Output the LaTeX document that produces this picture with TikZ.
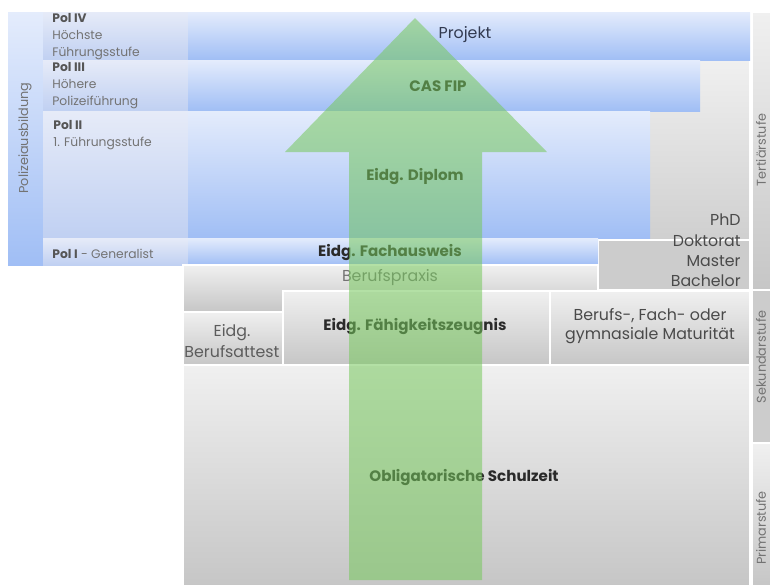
\documentclass[tikz,border=0pt]{standalone}
\usepackage{fontspec}
\setmainfont{Poppins}
\usepackage{tikz}
\usetikzlibrary{positioning}
\definecolor{bandtop}{RGB}{228,236,252}
\definecolor{bandbot}{RGB}{160,190,245}
\definecolor{poltop}{RGB}{230,235,248}
\definecolor{polbot}{RGB}{192,208,242}
\definecolor{greytop}{RGB}{240,240,240}
\definecolor{greybot}{RGB}{198,198,198}
\definecolor{arrowgreen}{RGB}{118,200,92}
\definecolor{textdark}{RGB}{42,42,42}
\definecolor{textgrey}{RGB}{115,115,115}
\definecolor{textblue}{RGB}{50,58,80}
\tikzstyle{band}=[top color=bandtop,bottom color=bandbot]
\tikzstyle{polbox}=[top color=poltop,bottom color=polbot]
\tikzstyle{greybox}=[top color=greytop,bottom color=greybot,draw=white,line width=0.6pt]
\tikzstyle{darkbox}=[fill=black!20,draw=white,line width=0.6pt]
\tikzstyle{boldtext}=[font=\fontsize{8.6}{12}\selectfont\bfseries,text=textdark,align=center,inner sep=0pt]
\tikzstyle{plaintext}=[font=\fontsize{9}{11.5}\selectfont,text=textdark!85,align=center,inner sep=0pt]
\tikzstyle{poltext}=[font=\fontsize{7}{9.8}\selectfont,text=textgrey,align=left,anchor=north west,inner sep=0pt]
\tikzstyle{sidetext}=[font=\fontsize{7.3}{8}\selectfont,text=textgrey,rotate=90,inner sep=0pt]

\begin{document}
\begin{tikzpicture}[x=0.2mm,y=-0.2mm]
    \useasboundingbox (0,0) rectangle (771,586);
    % tertiary backdrop and PhD box
    \path[greybox] (598,60) rectangle (750,290);
    \path[darkbox] (598,240) rectangle (750,290);
    % police training strip
    \path[band] (8,12) rectangle (43,265);
    % the Pol boxes and the blue bands
    \foreach \top/\bot/\right in {12/60/750, 60/111/700, 111/238/650, 238/265/598}
    {
        \path[polbox] (43,\top) rectangle (188,\bot);
        \path[band] (188,\top) rectangle (\right,\bot);
    }
    % grey boxes below
    \path[greybox] (183,265) rectangle (598,312);
    \path[greybox] (183,312) rectangle (283,365);
    \path[greybox] (283,291) rectangle (550,365);
    \path[greybox] (550,291) rectangle (750,365);
    \path[greybox] (183,365) rectangle (750,586);
    % school levels on the right
    \path[greybox] (752,12) rectangle (771,290);
    \path[darkbox] (752,290) rectangle (771,443);
    \path[greybox] (752,443) rectangle (771,586);

    % texts
    \node[sidetext] (polizei) at (25,138) {Polizeiausbildung};
    \node[poltext] (pol4) at (52,13) {\textbf{\color{textdark!80}Pol IV}\\Höchste\\Führungsstufe};
    \node[poltext] (pol3) at (52,62) {\textbf{\color{textdark!80}Pol III}\\Höhere\\Polizeiführung};
    \node[poltext] (pol2) at (53,120) {\textbf{\color{textdark!80}Pol II}\\1. Führungsstufe};
    \node[poltext,anchor=west] (pol1) at (52,254) {\textbf{\color{textdark!80}Pol I} - Generalist};
    \node[plaintext,text=textblue] (projekt) at (465,35) {Projekt};
    \node[boldtext] (casfip) at (438,86) {CAS FIP};
    \node[boldtext] (diplom) at (415,177) {Eidg. Diplom};
    \node[boldtext] (fachausweis) at (390,253) {Eidg. Fachausweis};
    \node[plaintext,text=textgrey] (praxis) at (390,278) {Berufspraxis};
    \node[boldtext] (efz) at (415,327) {Eidg. Fähigkeitszeugnis};
    \node[plaintext,font=\fontsize{9}{10.8}\selectfont] (maturitaet) at (650,326) {Berufs-, Fach- oder\\gymnasiale Maturität};
    \node[plaintext,text=textgrey!80!black,font=\fontsize{9}{12.4}\selectfont] (attest) at (232,341) {Eidg.\\Berufsattest};
    \node[boldtext] (schulzeit) at (464,478) {Obligatorische Schulzeit};
    \node[plaintext,align=right,anchor=south east] (phd) at (741,287) {PhD\\Doktorat\\Master\\Bachelor};
    \node[sidetext] (tertiaer) at (761,150) {Tertiärstufe};
    \node[sidetext] (sekundar) at (761,357) {Sekundarstufe};
    \node[sidetext] (primar) at (761,528) {Primarstufe};

    % the green arrow on top
    \fill[arrowgreen,fill opacity=0.55] (349,580) -- (349,152) -- (285,152) -- (415,18)
        -- (547,152) -- (482,152) -- (482,580) -- cycle;
\end{tikzpicture}
\end{document}
